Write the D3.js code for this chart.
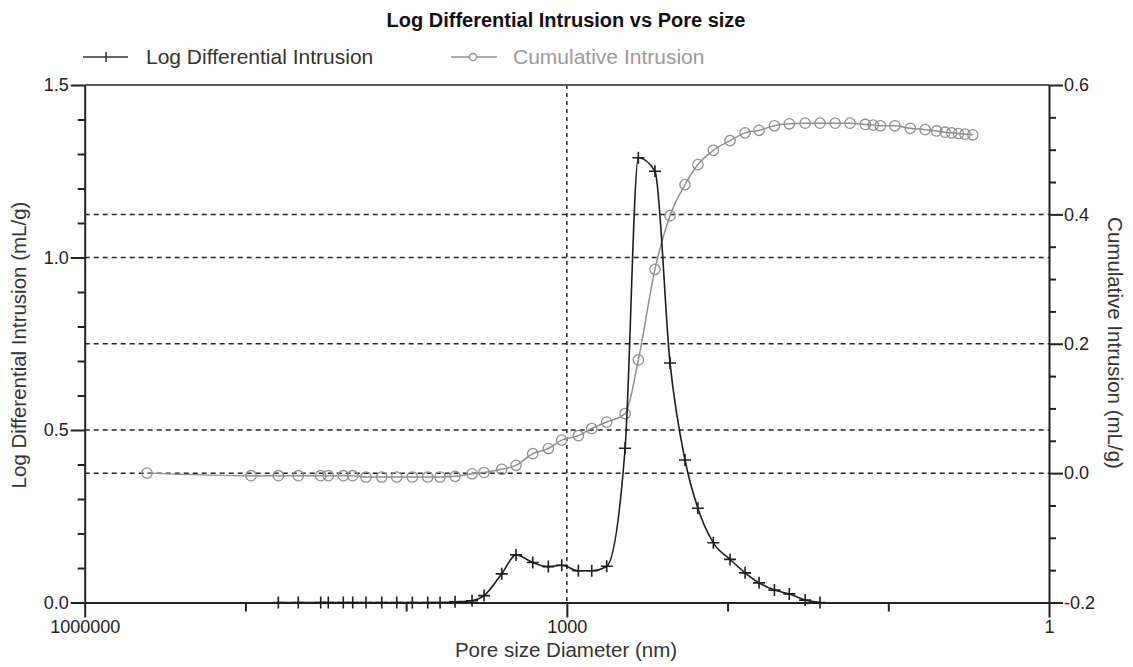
<!DOCTYPE html>
<html>
<head>
<meta charset="utf-8">
<script src="https://cdnjs.cloudflare.com/ajax/libs/d3/7.8.5/d3.min.js"></script>
<style>
    html, body { margin: 0; padding: 0; background: #ffffff; }
    svg { display: block; font-family: "Liberation Sans", Arial, sans-serif; }
</style>
</head>
<body>
<svg id="chart" width="1133" height="667"></svg>
<script>
// pore diameters (nm), large -> small
let diameters = [410000, 92300, 62400, 46900, 34000, 30500, 24600, 21500, 17770, 14180,
    11440, 9150, 7340, 6150, 4960, 3890, 3275, 2542, 2071, 1630,
    1304, 1076, 848, 700, 565, 434, 359, 283, 228, 184,
    153, 122.6, 96.5, 77.8, 63.7, 51.1, 41.3, 32.9, 26.6, 21.4,
    17.3, 13.9, 12.4, 11.2, 9.1, 7.3, 5.9, 5.0, 4.43, 4.03,
    3.66, 3.33, 2.98];
// Log Differential Intrusion (mL/g), left axis
let logDiff = [null, null, 0, 0, 0, 0, 0, 0, 0, 0,
    0, 0, 0, 0, 0.002, 0.005, 0.02, 0.083, 0.138, 0.116,
    0.104, 0.108, 0.092, 0.092, 0.105, 0.447, 1.289, 1.25, 0.694, 0.413,
    0.273, 0.173, 0.125, 0.086, 0.057, 0.036, 0.025, 0.007, 0, null,
    null, null, null, null, null, null, null, null, null, null,
    null, null, null];
// Cumulative Intrusion (mL/g), right axis
let cumulative = [0.0, -0.004, -0.004, -0.004, -0.004, -0.004, -0.004, -0.004, -0.006, -0.006,
    -0.006, -0.006, -0.006, -0.006, -0.005, -0.001, 0.001, 0.006, 0.012, 0.030,
    0.038, 0.051, 0.058, 0.069, 0.079, 0.092, 0.175, 0.315, 0.398, 0.446,
    0.477, 0.499, 0.514, 0.526, 0.530, 0.537, 0.540, 0.541, 0.541, 0.541,
    0.541, 0.539, 0.538, 0.537, 0.537, 0.533, 0.531, 0.529, 0.527, 0.526,
    0.525, 0.524, 0.523];

let xMajor = [1000000, 1000, 1],
    xMinor = [100000, 10000, 100, 10],
    leftMajor = [0, 0.5, 1.0, 1.5],
    leftMinor = [0.1, 0.2, 0.3, 0.4, 0.6, 0.7, 0.8, 0.9, 1.1, 1.2, 1.3, 1.4],
    rightMajor = [-0.2, 0, 0.2, 0.4, 0.6],
    rightMinor = [-0.15, -0.1, -0.05, 0.05, 0.1, 0.15, 0.25, 0.3, 0.35, 0.45, 0.5, 0.55];

let svg = d3.select("#chart");
let box = {left: 84.7, right: 1049, top: 85, bottom: 602.5};

let x = d3.scaleLog().domain([1000000, 1]).range([box.left, box.right]);
let yL = d3.scaleLinear().domain([0, 1.5]).range([box.bottom, box.top]);
let yR = d3.scaleLinear().domain([-0.2, 0.6]).range([box.bottom, box.top]);

let ink = "#222222";

// title
svg.append("text")
    .attr("x", 566)
    .attr("y", 27)
    .style("font-size", "20px")
    .style("font-weight", "bold")
    .style("fill", "#111")
    .style("text-anchor", "middle")
    .text("Log Differential Intrusion vs Pore size");

// dashed grid lines
let grid = svg.append("g").attr("id", "grid");
let hLines = leftMajor.filter(d => d > 0 && d < 1.5).map(d => yL(d))
    .concat(rightMajor.filter(d => d > -0.2 && d < 0.6).map(d => yR(d)));
grid.selectAll("line.h")
    .data(hLines)
    .enter().append("line")
    .attr("class", "h")
    .attr("x1", box.left).attr("x2", box.right)
    .attr("y1", d => d).attr("y2", d => d)
    .style("stroke", ink)
    .style("stroke-width", 1.5)
    .style("stroke-dasharray", "5 4");
grid.selectAll("line.v")
    .data(xMajor.filter(d => d !== 1000000 && d !== 1))
    .enter().append("line")
    .attr("class", "v")
    .attr("x1", d => x(d)).attr("x2", d => x(d))
    .attr("y1", box.top).attr("y2", box.bottom)
    .style("stroke", ink)
    .style("stroke-width", 1.5)
    .style("stroke-dasharray", "4 4");

// top frame line
svg.append("line")
    .attr("x1", box.left).attr("x2", box.right)
    .attr("y1", box.top).attr("y2", box.top)
    .style("stroke", "#555")
    .style("stroke-width", 2);

function styleAxis(g, fontSize){
    g.selectAll("path.domain").style("stroke", ink).style("stroke-width", 2);
    g.selectAll(".tick line").style("stroke", ink).style("stroke-width", 2);
    g.selectAll(".tick text")
        .style("fill", ink)
        .style("font-size", fontSize)
        .style("font-family", "'Liberation Sans', Arial, sans-serif");
}

// x axis
let gx = svg.append("g")
    .attr("transform", `translate(0,${box.bottom})`)
    .call(d3.axisBottom(x).tickValues(xMajor).tickFormat(d3.format("d")).tickSize(15).tickSizeOuter(0).tickPadding(3));
styleAxis(gx, "18px");
let gx2 = svg.append("g")
    .attr("transform", `translate(0,${box.bottom})`)
    .call(d3.axisBottom(x).tickValues(xMinor).tickFormat("").tickSize(9).tickSizeOuter(0));
gx2.select("path.domain").remove();
styleAxis(gx2, "18px");

// left axis
let gl = svg.append("g")
    .attr("transform", `translate(${box.left},0)`)
    .call(d3.axisLeft(yL).tickValues(leftMajor).tickFormat(d3.format(".1f")).tickSize(14).tickSizeOuter(0).tickPadding(2));
styleAxis(gl, "18px");
let gl2 = svg.append("g")
    .attr("transform", `translate(${box.left},0)`)
    .call(d3.axisLeft(yL).tickValues(leftMinor).tickFormat("").tickSize(7).tickSizeOuter(0));
gl2.select("path.domain").remove();
styleAxis(gl2, "18px");

// right axis
let gr = svg.append("g")
    .attr("transform", `translate(${box.right},0)`)
    .call(d3.axisRight(yR).tickValues(rightMajor).tickFormat(d3.format(".1f")).tickSize(14).tickSizeOuter(0).tickPadding(1));
styleAxis(gr, "18px");
gr.selectAll(".tick text").text(d => d < 0 ? "-" + d3.format(".1f")(-d) : d3.format(".1f")(d));
let gr2 = svg.append("g")
    .attr("transform", `translate(${box.right},0)`)
    .call(d3.axisRight(yR).tickValues(rightMinor).tickFormat("").tickSize(7).tickSizeOuter(0));
gr2.select("path.domain").remove();
styleAxis(gr2, "18px");

// axis titles
svg.append("text")
    .attr("x", 566)
    .attr("y", 657)
    .style("font-size", "20.5px")
    .style("fill", "#333")
    .style("text-anchor", "middle")
    .text("Pore size Diameter (nm)");
svg.append("text")
    .attr("transform", "translate(26,345) rotate(-90)")
    .style("font-size", "20.5px")
    .style("fill", "#333")
    .style("text-anchor", "middle")
    .text("Log Differential Intrusion (mL/g)");
svg.append("text")
    .attr("transform", "translate(1108,343) rotate(90)")
    .style("font-size", "20.5px")
    .style("fill", "#333")
    .style("text-anchor", "middle")
    .text("Cumulative Intrusion (mL/g)");

// series
let cumData = diameters.map((d, i) => ({d: d, v: cumulative[i]}));
let ldiData = diameters.map((d, i) => ({d: d, v: logDiff[i]})).filter(p => p.v !== null);

let cumColor = "#8f8f8f",
    ldiColor = "#1e1e1e";

svg.append("path")
    .datum(cumData)
    .attr("d", d3.line().x(p => x(p.d)).y(p => yR(p.v)).curve(d3.curveMonotoneX))
    .style("fill", "none")
    .style("stroke", cumColor)
    .style("stroke-width", 1.5);
svg.append("g").selectAll("circle")
    .data(cumData)
    .enter().append("circle")
    .attr("cx", p => x(p.d))
    .attr("cy", p => yR(p.v))
    .attr("r", 5.2)
    .style("fill", "none")
    .style("stroke", cumColor)
    .style("stroke-width", 1.3);

let plus = "M-6,0H6M0,-6V6";
svg.append("path")
    .datum(ldiData)
    .attr("d", d3.line().x(p => x(p.d)).y(p => yL(p.v)).curve(d3.curveMonotoneX))
    .style("fill", "none")
    .style("stroke", ldiColor)
    .style("stroke-width", 1.6);
svg.append("g").selectAll("path")
    .data(ldiData)
    .enter().append("path")
    .attr("transform", p => `translate(${x(p.d)},${yL(p.v)})`)
    .attr("d", plus)
    .style("fill", "none")
    .style("stroke", ldiColor)
    .style("stroke-width", 1.6);

// legend
let legend = svg.append("g").attr("id", "legend");
legend.append("line")
    .attr("x1", 83).attr("x2", 128).attr("y1", 57).attr("y2", 57)
    .style("stroke", "#333").style("stroke-width", 1.5);
legend.append("path")
    .attr("transform", "translate(106,57)")
    .attr("d", "M0,-5V5")
    .style("stroke", "#333").style("stroke-width", 1.5);
legend.append("text")
    .attr("x", 146).attr("y", 64)
    .style("font-size", "21px")
    .style("fill", "#333")
    .text("Log Differential Intrusion");
legend.append("line")
    .attr("x1", 451).attr("x2", 497).attr("y1", 57).attr("y2", 57)
    .style("stroke", cumColor).style("stroke-width", 1.5);
legend.append("circle")
    .attr("cx", 473).attr("cy", 57).attr("r", 3.5)
    .style("fill", "#fff")
    .style("stroke", cumColor).style("stroke-width", 1.3);
legend.append("text")
    .attr("x", 513).attr("y", 64)
    .style("font-size", "21px")
    .style("fill", "#9a9a9a")
    .text("Cumulative Intrusion");
</script>
</body>
</html>
